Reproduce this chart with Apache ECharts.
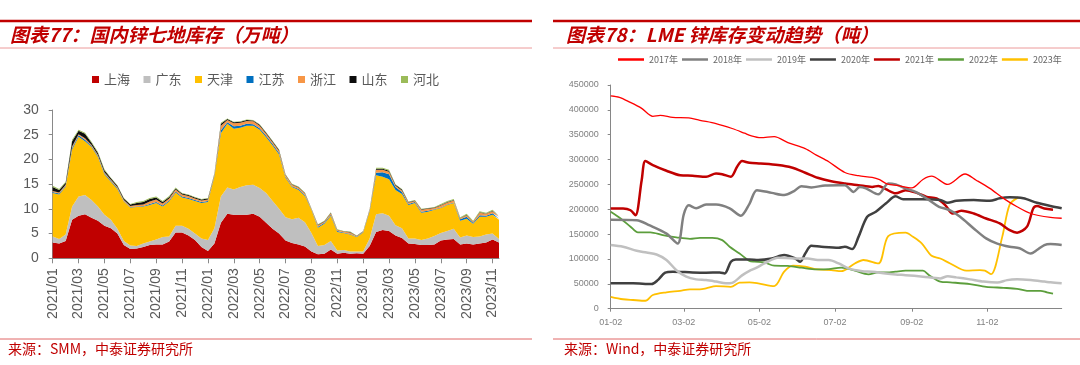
<!DOCTYPE html>
<html><head><meta charset="utf-8">
<script src="https://cdn.jsdelivr.net/npm/echarts@6/dist/echarts.min.js"></script>
<style>html,body{margin:0;padding:0;background:#fff;}#c{width:1080px;height:365px;}</style>
</head><body><div id="c"></div>
<script>
// ---------- Left chart: 国内锌七地库存（万吨）, half-monthly ----------
const dates = [
'2021/01/01','2021/01/16','2021/02/01','2021/02/16','2021/03/01','2021/03/16','2021/04/01','2021/04/16','2021/05/01','2021/05/16','2021/06/01','2021/06/16',
'2021/07/01','2021/07/16','2021/08/01','2021/08/16','2021/09/01','2021/09/16','2021/10/01','2021/10/16','2021/11/01','2021/11/16','2021/12/01','2021/12/16',
'2022/01/01','2022/01/16','2022/02/01','2022/02/16','2022/03/01','2022/03/16','2022/04/01','2022/04/16','2022/05/01','2022/05/16','2022/06/01','2022/06/16',
'2022/07/01','2022/07/16','2022/08/01','2022/08/16','2022/09/01','2022/09/16','2022/10/01','2022/10/16','2022/11/01','2022/11/16','2022/12/01','2022/12/16',
'2023/01/01','2023/01/16','2023/02/01','2023/02/16','2023/03/01','2023/03/16','2023/04/01','2023/04/16','2023/05/01','2023/05/16','2023/06/01','2023/06/16',
'2023/07/01','2023/07/16','2023/08/01','2023/08/16','2023/09/01','2023/09/16','2023/10/01','2023/10/16','2023/11/01','2023/11/16'];
const shanghai = [3.2,3.0,3.5,7.8,8.6,8.9,8.2,7.6,6.6,6.1,5.0,2.7,1.9,2.0,2.3,2.7,2.8,2.8,3.4,5.2,5.2,4.6,3.7,2.3,
 1.5,3.0,7.2,9.0,8.8,8.8,8.8,9.0,8.4,7.2,6.0,5.0,3.6,3.1,2.8,2.4,1.4,0.8,0.9,1.8,0.9,1.1,0.9,1.0,
 0.9,2.5,5.3,5.7,5.5,4.6,4.1,3.0,2.9,2.7,2.7,2.8,3.6,3.8,3.9,2.8,3.0,2.8,3.0,3.2,3.8,3.2];
const guangdong = [1.2,0.9,1.3,2.7,3.9,3.9,3.6,2.9,2.2,1.7,1.0,0.8,0.7,0.5,0.7,0.7,1.0,1.5,1.0,1.4,1.4,1.4,1.3,1.7,
 2.2,3.1,5.3,5.3,5.1,5.6,6.0,5.9,5.8,6.0,5.6,5.0,4.7,4.8,5.4,4.9,3.7,1.7,1.8,1.7,0.7,0.6,0.5,0.4,
 0.5,1.5,3.6,3.4,3.1,2.1,2.0,1.0,1.1,1.0,1.3,1.7,1.5,1.7,2.1,1.4,1.6,1.5,1.4,1.6,1.2,0.7];
const tianjin = [8.8,9.0,9.7,11.5,12.1,10.9,10.7,10.0,8.2,7.7,8.0,8.0,7.7,7.9,7.5,7.4,7.4,6.2,7.1,6.7,5.7,6.0,6.6,7.2,
 7.7,10.5,12.8,12.9,12.3,12.0,12.0,11.9,11.8,11.3,11.2,11.0,8.0,6.5,5.6,5.3,4.7,3.7,4.3,5.1,3.7,3.4,3.4,2.9,
 3.8,5.5,7.9,7.4,7.4,7.1,6.9,6.8,7.2,5.5,5.4,5.3,5.1,5.3,5.2,3.4,3.4,2.7,4.0,3.6,3.8,3.9];
const jiangsu = [0.2,0.2,0.2,0.3,0.3,0.3,0.2,0.2,0.2,0.2,0.2,0.1,0.1,0.1,0.1,0.2,0.2,0.2,0.2,0.2,0.2,0.2,0.2,0.2,
 0.2,0.2,0.6,0.3,0.5,0.4,0.4,0.3,0.3,0.3,0.3,0.3,0.2,0.2,0.2,0.2,0.1,0.2,0.2,0.2,0.2,0.1,0.1,0.1,
 0.1,0.2,0.5,0.9,1.0,0.6,0.4,0.2,0.2,0.2,0.2,0.1,0.1,0.1,0.1,0.3,0.4,0.2,0.3,0.2,0.3,0.2];
const zhejiang = [0.2,0.2,0.2,0.3,0.2,0.3,0.2,0.2,0.2,0.2,0.2,0.2,0.2,0.3,0.3,0.5,0.5,0.4,0.4,0.4,0.4,0.4,0.3,0.3,
 0.3,0.2,0.9,0.5,0.6,0.6,0.6,0.6,0.5,0.4,0.4,0.4,0.3,0.3,0.3,0.3,0.1,0.3,0.2,0.3,0.2,0.2,0.3,0.1,
 0.1,0.2,0.6,0.5,0.5,0.3,0.3,0.3,0.2,0.4,0.4,0.3,0.4,0.4,0.4,0.2,0.3,0.2,0.5,0.4,0.4,0.4];
const shandong = [0.8,0.5,0.4,1.1,0.7,0.9,0.5,0.4,0.4,0.3,0.3,0.3,0.3,0.4,0.5,0.5,0.4,0.3,0.3,0.2,0.2,0.2,0.2,0.2,
 0.2,0.1,0.4,0.2,0.2,0.2,0.2,0.2,0.2,0.2,0.2,0.2,0.1,0.1,0.1,0.1,0.05,0.1,0.1,0.1,0.1,0.05,0.1,0.05,
 0.05,0.05,0.2,0.2,0.2,0.2,0.2,0.1,0.1,0.1,0.1,0.1,0.1,0.1,0.1,0.05,0.1,0.05,0.1,0.05,0.1,0.05];
const hebei = [0.3,0.2,0.2,0.3,0.2,0.2,0.2,0.2,0.2,0.1,0.1,0.1,0.1,0.2,0.2,0.2,0.2,0.2,0.2,0.2,0.1,0.1,0.1,0.1,
 0.1,0.1,0.2,0.1,0.1,0.1,0.1,0.1,0.1,0.1,0.1,0.1,0.1,0.1,0.1,0.1,0.05,0.1,0.1,0.1,0.1,0.05,0.1,0.05,
 0.05,0.05,0.2,0.2,0.2,0.1,0.1,0.1,0.1,0.1,0.1,0.1,0.2,0.2,0.2,0.15,0.2,0.15,0.2,0.15,0.2,0.15];
const regionNames = ['上海','广东','天津','江苏','浙江','山东','河北'];
const regionColors = ['#c00000','#bfbfbf','#ffc000','#0070c0','#f79646','#0d0d0d','#9bbb59'];
const regionData = [shanghai,guangdong,tianjin,jiangsu,zhejiang,shandong,hebei];

// ---------- Right chart: LME锌库存变动趋势（吨）, [day since 01-02, tonnes] ----------
const dayTicks = [0,59,120,181,243,304];
const dayTickLabels = ['01-02','03-02','05-02','07-02','09-02','11-02'];
const lme2017 = [[0,428000],[7,425000],[15,416000],[25,403000],[34,387000],[40,389000],[50,385000],[63,384000],[72,379000],[85,372500],[98,362500],[108,353000],[113,348000],[121,344000],[132,346000],[143,334000],[157,322000],[166,309000],[176,295500],[189,274000],[200,267500],[211,264000],[217,259500],[223,251000],[232,247500],[243,243000],[252,260000],[259,266500],[272,250000],[286,271000],[295,258500],[306,242000],[317,222000],[328,205000],[339,191500],[355,183500],[364,182000]];
const lme2018 = [[0,179000],[21,178000],[31,168000],[45,151000],[54,131000],[59,190000],[63,208000],[69,202000],[77,209500],[85,209500],[96,202000],[105,187000],[112,211000],[118,238500],[130,233000],[140,228500],[148,236500],[154,246500],[162,244000],[173,248000],[184,248500],[189,248500],[196,235000],[201,245000],[206,242000],[216,230000],[224,252000],[230,250000],[238,242000],[246,235000],[257,218500],[265,205000],[274,198000],[282,185000],[293,161500],[303,141500],[312,131000],[322,124500],[330,121500],[339,111000],[344,118000],[350,128000],[355,130000],[364,128000]];
const lme2019 = [[0,128000],[10,124500],[21,116500],[29,113000],[37,109000],[45,98000],[53,77500],[61,64500],[69,59000],[77,57500],[85,54500],[93,51000],[98,52000],[106,67000],[112,76000],[117,81500],[124,91000],[135,102500],[148,101000],[159,101000],[167,98000],[176,98000],[184,91000],[192,81000],[203,75500],[211,74500],[222,71000],[230,69000],[238,67500],[252,64500],[266,61000],[272,65500],[279,63000],[290,59000],[301,54500],[312,52500],[320,57500],[328,59000],[339,57500],[350,54500],[355,53000],[364,51000]];
const lme2020 = [[0,51000],[18,51000],[33,49500],[38,57500],[44,72500],[50,74500],[66,73000],[77,72500],[88,73000],[92,71000],[97,94500],[101,99000],[112,99000],[119,98000],[130,101000],[140,108000],[149,101000],[153,94500],[157,111000],[162,126500],[170,124500],[184,122500],[189,124500],[195,120000],[200,144500],[207,185000],[214,195000],[222,211500],[230,226000],[236,220000],[252,220000],[266,218500],[272,213000],[279,217000],[293,218500],[306,217000],[314,222000],[322,224000],[333,222000],[344,213000],[355,206500],[364,202000]];
const lme2021 = [[0,201500],[10,201500],[16,198000],[20,188000],[25,258500],[28,297000],[34,289000],[45,277500],[56,268500],[66,267500],[77,265500],[85,272000],[90,270500],[97,265500],[102,285500],[106,297000],[112,293500],[121,292000],[135,289000],[146,284000],[157,273500],[167,263500],[178,256500],[189,252000],[200,248500],[211,245000],[216,247000],[222,240500],[230,232000],[238,238500],[247,233000],[255,225000],[263,222000],[270,208500],[276,191500],[283,197000],[293,191500],[303,181500],[314,171500],[322,158000],[328,153000],[336,165000],[341,201500],[344,206500],[350,201500],[357,199000]];
const lme2022 = [[0,195000],[8,181500],[16,165000],[22,153500],[32,153500],[42,148000],[53,143500],[64,140500],[72,142500],[82,142500],[90,138000],[96,124500],[104,111000],[112,96000],[116,94500],[124,93000],[132,86500],[143,86000],[154,82500],[166,79000],[176,79500],[186,82500],[197,76500],[208,69000],[216,73000],[225,73000],[230,74500],[238,76500],[252,76500],[257,67500],[266,54500],[274,53000],[290,49500],[303,44000],[317,42000],[328,40000],[336,36000],[347,36000],[352,33000],[357,30500]];
const lme2023 = [[0,24000],[10,19000],[18,17500],[28,16000],[34,27500],[45,33000],[56,36000],[64,39000],[72,39000],[77,41000],[85,45500],[97,44000],[104,52500],[112,53000],[119,51000],[132,45500],[140,74500],[147,86500],[157,84500],[167,79000],[178,77500],[186,75500],[197,91000],[204,98000],[216,91000],[224,146000],[238,153000],[244,144500],[251,131500],[259,106500],[266,101000],[274,91000],[287,76500],[298,77500],[302,76500],[307,69500],[316,144500],[322,209500],[329,224000]];
const yearNames = ['2017年','2018年','2019年','2020年','2021年','2022年','2023年'];
const yearColors = ['#ff0000','#808080','#c0c0c0','#404040','#c00000','#5c9e3c','#ffc000'];
const yearWidths = [1.3,2.5,2.5,2.5,2.5,1.8,1.8];
const yearData = [lme2017,lme2018,lme2019,lme2020,lme2021,lme2022,lme2023];

const FONT = '"Liberation Sans", Arial, sans-serif';
const CJK = '"Noto Sans CJK SC", sans-serif';
const chart = echarts.init(document.getElementById('c'), null, {renderer:'canvas'});

const series = [];
regionNames.forEach((n,i)=>{
  series.push({name:n,type:'line',xAxisIndex:0,yAxisIndex:0,stack:'total',symbol:'none',
    lineStyle:{width:0},areaStyle:{color:regionColors[i],opacity:1},itemStyle:{color:regionColors[i]},
    data:regionData[i],animation:false});
});
yearNames.forEach((n,i)=>{
  series.push({name:n,type:'line',xAxisIndex:1,yAxisIndex:1,symbol:'none',smooth:0.3,
    lineStyle:{width:yearWidths[i],color:yearColors[i]},itemStyle:{color:yearColors[i]},
    data:yearData[i],animation:false,z:10-i});
});

const hl = (x1,x2,y,c,w)=>({type:'line',shape:{x1:x1,y1:y,x2:x2,y2:y},style:{stroke:c,lineWidth:w},silent:true});
const tx = (x,y,t,font,c)=>({type:'text',x:x,y:y,style:{text:t,font:font,fill:c,verticalAlign:'middle'},silent:true});

chart.setOption({
  animation:false,
  grid:[{left:52.7,top:110,width:446.3,height:148.3},{left:610.7,top:85,width:451,height:223.7}],
  legend:[
    {data:regionNames,left:87,top:68,icon:'rect',itemWidth:7,itemHeight:7,itemGap:13.5,
     textStyle:{fontSize:13,color:'#595959',fontFamily:CJK}},
    {data:yearNames,left:613,top:50,icon:'rect',itemWidth:26,itemHeight:2.5,itemGap:4,
     textStyle:{fontSize:9,color:'#666666',fontFamily:CJK}}
  ],
  xAxis:[
    {type:'category',gridIndex:0,data:dates,boundaryGap:false,
     axisLine:{lineStyle:{color:'#898989',width:1}},
     axisTick:{show:true,interval:3,length:5,lineStyle:{color:'#898989'}},
     axisLabel:{interval:3,rotate:90,fontSize:14,color:'#595959',fontFamily:FONT,margin:10,
       formatter:v=>v.slice(0,7)},
     splitLine:{show:false}},
    {type:'value',gridIndex:1,min:0,max:364,
     axisLine:{lineStyle:{color:'#868686',width:1}},
     axisTick:{show:true,customValues:dayTicks,length:3,lineStyle:{color:'#868686'}},
     axisLabel:{customValues:dayTicks,fontSize:9,color:'#808080',fontFamily:FONT,margin:9,
       formatter:v=>dayTickLabels[dayTicks.indexOf(v)]},
     splitLine:{show:false}}
  ],
  yAxis:[
    {type:'value',gridIndex:0,min:0,max:30,interval:5,
     axisLine:{show:true,lineStyle:{color:'#898989'}},
     axisTick:{show:true,length:4,lineStyle:{color:'#898989'}},
     axisLabel:{fontSize:14,color:'#595959',fontFamily:FONT,margin:14},
     splitLine:{show:false}},
    {type:'value',gridIndex:1,min:0,max:450000,interval:50000,
     axisLine:{show:true,lineStyle:{color:'#868686'}},
     axisTick:{show:true,length:3,lineStyle:{color:'#868686'}},
     axisLabel:{fontSize:9,color:'#808080',fontFamily:FONT,margin:12,formatter:v=>String(v)},
     splitLine:{show:false}}
  ],
  series:series,
  graphic:[
    hl(0,532,21,'#c00000',2.5), hl(553,1080,21,'#c00000',2.5),
    hl(0,532,48,'#ec9a9a',1), hl(553,1080,48,'#ec9a9a',1),
    hl(0,532,339,'#e06666',1), hl(553,1080,339,'#e06666',1),
    tx(10,35,'图表77：国内锌七地库存（万吨）','italic bold 19px '+CJK,'#c00000'),
    tx(566,35,'图表78：LME 锌库存变动趋势（吨）','italic bold 19px '+CJK,'#c00000'),
    tx(8,349,'来源：SMM，中泰证券研究所','14px '+CJK,'#c00000'),
    tx(564,349,'来源：Wind，中泰证券研究所','14px '+CJK,'#c00000')
  ]
});
</script></body></html>
